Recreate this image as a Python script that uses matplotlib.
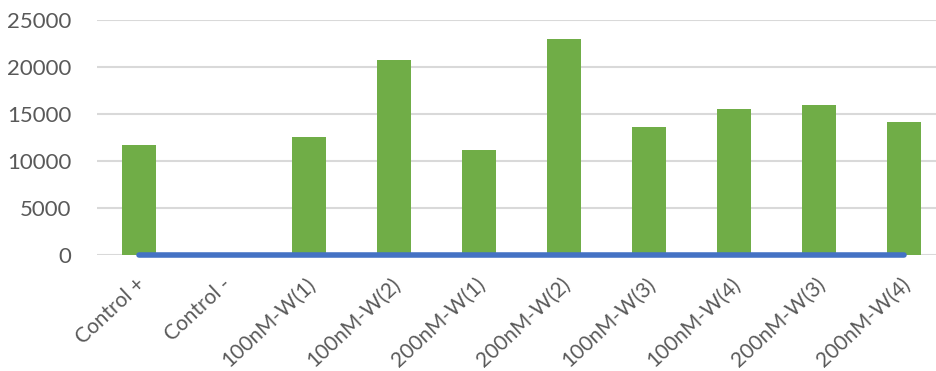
import matplotlib
matplotlib.use('Agg')
from matplotlib import pyplot as plt
import matplotlib.transforms as mtransforms
import numpy as np

samples = ['Control +', 'Control -', '100nM-W(1)', '100nM-W(2)', '200nM-W(1)',
           '200nM-W(2)', '100nM-W(3)', '100nM-W(4)', '200nM-W(3)', '200nM-W(4)']
signal = [11700, 0, 12550, 20750, 11200, 22950, 13650, 15500, 15950, 14100]
background = [0, 0, 0, 0, 0, 0, 0, 0, 0, 0]
y_ticks = [0, 5000, 10000, 15000, 20000, 25000]

plt.rcParams['font.family'] = ['Lato', 'DejaVu Sans']

fig = plt.figure(figsize=(9.36, 3.71), dpi=100)
ax = fig.add_axes([96.5 / 936, 116 / 371, 839.5 / 936, 235 / 371])

x = np.arange(len(samples))
ax.bar(x, signal, width=0.4, color='#70AD47', zorder=2)
ax.plot(x, background, color='#4472C4', linewidth=4, solid_capstyle='round',
        zorder=3, clip_on=False)

ax.set_xlim(-0.5, 9.5 - 10.5 / 85)
ax.set_ylim(0, 25000)
ax.set_yticks(y_ticks)
ax.set_yticklabels([str(v) for v in y_ticks])
ax.set_xticks(x)
ax.set_xticklabels(samples, rotation=43, ha='right', rotation_mode='anchor')

ax.yaxis.grid(True, color='#D9D9D9', linewidth=1.5, zorder=0)
ax.set_axisbelow(True)
for s in ax.spines.values():
    s.set_visible(False)
ax.tick_params(axis='both', length=0, colors='#595959')
ax.tick_params(axis='y', pad=18, labelsize=16)
ax.tick_params(axis='x', pad=14, labelsize=15)

# pull the rotated labels slightly left so they end under the bars
shift = mtransforms.ScaledTranslation(-3 / 100, 0, fig.dpi_scale_trans)
for lab in ax.get_xticklabels():
    lab.set_transform(lab.get_transform() + shift)

plt.savefig('out.png', dpi=100)
